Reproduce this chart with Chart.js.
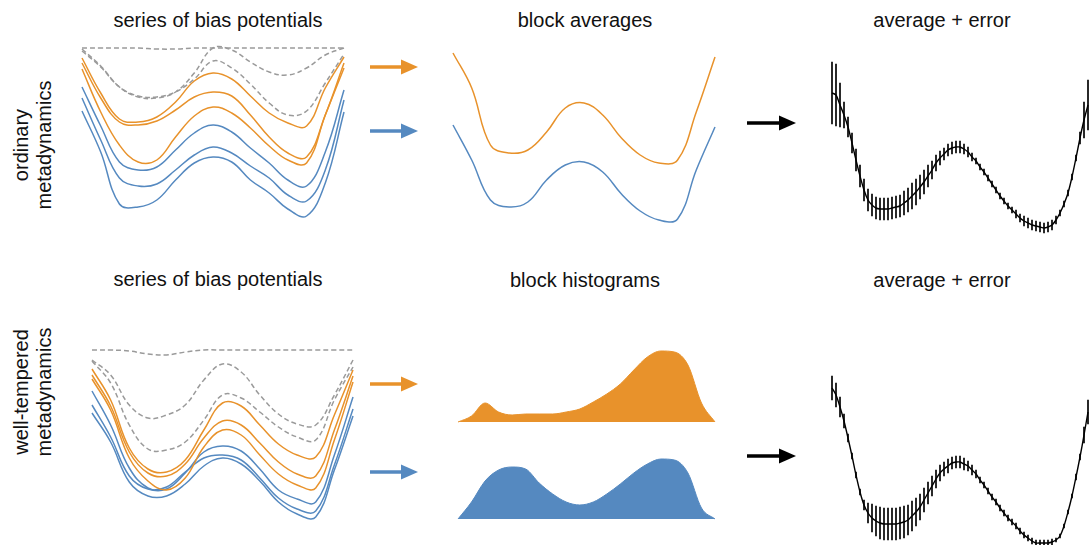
<!DOCTYPE html>
<html>
<head>
<meta charset="utf-8">
<script src="https://cdn.jsdelivr.net/npm/chart.js@4.4.1/dist/chart.umd.min.js"></script>
<style>
body{margin:0;background:#fff;width:1090px;height:545px;overflow:hidden;position:relative;font-family:"Liberation Sans",Arial,Helvetica,sans-serif;color:#111}
canvas{position:absolute}
.title{position:absolute;font-size:20px;line-height:20px;white-space:nowrap;transform:translateX(-50%)}
.side{position:absolute;width:200px;height:46px;font-size:20px;line-height:23px;text-align:center;transform:rotate(-90deg)}
svg{position:absolute;left:0;top:0}
</style>
</head>
<body>
<div class="title" style="left:218px;top:10px">series of bias potentials</div>
<div class="title" style="left:585px;top:10px">block averages</div>
<div class="title" style="left:942px;top:10px">average + error</div>
<div class="title" style="left:218px;top:269px">series of bias potentials</div>
<div class="title" style="left:585px;top:270px">block histograms</div>
<div class="title" style="left:942px;top:270px">average + error</div>
<div class="side" style="left:-67px;top:122px">ordinary<br>metadynamics</div>
<div class="side" style="left:-67px;top:369px">well-tempered<br>metadynamics</div>

<svg width="1090" height="545">
  <g stroke-width="3.5">
    <line x1="370" y1="67" x2="405" y2="67" stroke="#E8922B"/>
    <polygon points="401,59.5 418,67 401,74.5" fill="#E8922B"/>
    <line x1="370" y1="131" x2="405" y2="131" stroke="#5589C0"/>
    <polygon points="401,123.5 418,131 401,138.5" fill="#5589C0"/>
    <line x1="747" y1="123" x2="783" y2="123" stroke="#000"/>
    <polygon points="779,115.5 796,123 779,130.5" fill="#000"/>
    <line x1="370" y1="384" x2="405" y2="384" stroke="#E8922B"/>
    <polygon points="401,376.5 418,384 401,391.5" fill="#E8922B"/>
    <line x1="370" y1="472" x2="405" y2="472" stroke="#5589C0"/>
    <polygon points="401,464.5 418,472 401,479.5" fill="#5589C0"/>
    <line x1="747" y1="456" x2="783" y2="456" stroke="#000"/>
    <polygon points="779,448.5 796,456 779,463.5" fill="#000"/>
  </g>
</svg>

<script>
// ---- ordinary metadynamics: series of bias potentials (15 samples along CV) ----
const ordFlat  = [0, 0, 0, 0, -1, -1, 0, 0, 0, 0, 0, 0, 0, 0, 0];
const ordGrey1 = [-1, -18, -39, -49, -50, -44, -25, 0, -2, -14, -24, -27, -20, -7, 0];
const ordGrey2 = [-3, -19, -39, -48, -49, -44, -31, -13, -20, -36, -55, -67, -63, -35, -6];
const ordOrA = [-10, -45, -71, -74, -69, -54, -33, -25, -31, -48, -65, -75, -78, -40, -9];
const ordOrB = [-15, -50, -74, -77, -73, -62, -49, -44, -48, -67, -89, -105, -109, -67, -15];
const ordOrC = [-21, -64, -97, -114, -112, -89, -68, -59, -65, -80, -98, -112, -115, -67, -20];
const ordBlA = [-39, -78, -114, -122, -119, -102, -85, -77, -84, -100, -115, -132, -138, -104, -42];
const ordBlB = [-50, -92, -130, -138, -136, -122, -107, -99, -105, -118, -130, -147, -153, -122, -52];
const ordBlC = [-63, -104, -156, -159, -152, -132, -115, -109, -114, -132, -145, -161, -168, -135, -64];

// block averages
const avgOrange = [0, -35, -92, -100, -97, -79, -55, -50, -62, -85, -102, -110, -107, -59, -4];
const avgBlue   = [-72, -107, -147, -154, -149, -127, -112, -109, -119, -141, -158, -167, -166, -117, -74];

// average + error (65 samples)
const ordMean = [0, -2, -12, -22, -34, -50, -67, -83, -97, -107, -112, -115, -116, -116, -116, -115, -114, -113, -110, -107,
  -103, -99, -94, -89, -83, -77, -70, -65, -61, -57, -55, -54, -54, -56, -59, -64, -68, -74, -79, -85,
  -91, -97, -103, -108, -113, -117, -121, -125, -128, -130, -132, -133, -134, -135, -134, -132, -127, -120, -111, -100,
  -84, -65, -45, -27, -12];
const ordErr = [31, 31, 22, 13, 10, 10, 11, 11, 11, 11, 11, 11, 11, 11, 11, 11, 11, 11, 12, 12,
  13, 13, 12, 12, 11, 9, 8, 7, 6, 6, 6, 6, 6, 5, 5, 4, 3, 3, 3, 3,
  3, 3, 3, 3, 3, 3, 4, 4, 5, 5, 5, 5, 5, 5, 5, 5, 4, 3, 3, 3,
  3, 3, 6, 18, 25];

// ---- well-tempered metadynamics ----
const wtFlat  = [0, 0, -1, -4, -5, -2, 0, 0, 0, 0, 0, 0, 0, 0, 0];
const wtGrey1 = [-10, -25, -55, -68, -65, -55, -30, -14, -22, -45, -64, -74, -75, -45, -10];
const wtGrey2 = [-11, -33, -75, -99, -100, -92, -70, -45, -48, -62, -77, -87, -90, -50, -17];
const wtOrA = [-19, -50, -98, -119, -122, -110, -80, -53, -56, -75, -94, -105, -107, -65, -20];
const wtOrB = [-25, -56, -102, -123, -126, -114, -88, -71, -75, -93, -112, -124, -126, -80, -26];
const wtOrC = [-29, -60, -108, -131, -140, -128, -97, -80, -85, -105, -124, -135, -138, -90, -32];
const wtBlA = [-41, -75, -118, -138, -139, -123, -102, -96, -101, -119, -140, -149, -152, -105, -47];
const wtBlB = [-55, -87, -126, -139, -137, -122, -108, -105, -110, -128, -148, -159, -161, -115, -59];
const wtBlC = [-63, -92, -132, -146, -146, -134, -116, -108, -114, -131, -152, -164, -167, -120, -66];

// block histograms (20 bins)
const histOrange = [0, 6, 19, 10, 7, 8, 8, 8, 10, 13, 20, 28, 38, 52, 65, 71, 70, 57, 19, 0];
const histBlue   = [0, 17, 38, 49, 52, 50, 36, 25, 17, 14, 17, 25, 35, 46, 55, 60, 59, 46, 11, 0];

const wtMean = [0, -7, -19, -33, -50, -68, -87, -104, -117, -125, -130, -133, -135, -136, -136, -136, -136, -135, -134, -132,
  -128, -124, -119, -112, -105, -98, -91, -85, -81, -78, -75, -74, -74, -76, -78, -82, -86, -92, -97, -103,
  -109, -114, -120, -125, -130, -134, -138, -143, -147, -150, -153, -155, -155, -155, -155, -154, -152, -148, -138, -124,
  -108, -89, -69, -47, -24];
const wtErr = [12, 12, 10, 7, 4, 3, 3, 3, 5, 10, 14, 15, 16, 16, 16, 16, 16, 16, 16, 15,
  15, 14, 13, 12, 11, 10, 9, 8, 7, 7, 6, 6, 6, 6, 5, 5, 4, 3, 3, 3,
  3, 3, 3, 3, 3, 3, 3, 3, 3, 3, 3, 3, 3, 3, 3, 3, 2, 2, 2, 2,
  2, 3, 3, 8, 12];

const ORANGE = '#E8922B', BLUE = '#5589C0', GREY = '#9a9a9a';

function pts(vals) { return vals.map((v, i) => ({x: i, y: v})); }

function curve(vals, color, dashed) {
  return {
    type: 'line', data: pts(vals), borderColor: color, borderWidth: 1.5,
    borderDash: dashed ? [5, 3] : [], pointRadius: 0, tension: 0.4, fill: false
  };
}

function area(vals, color) {
  return {
    type: 'line', data: pts(vals), borderColor: color, backgroundColor: color,
    borderWidth: 1, pointRadius: 0, cubicInterpolationMode: 'monotone', fill: {value: 0}
  };
}

function meanLine(vals) {
  return {type: 'line', data: pts(vals), borderColor: '#000', borderWidth: 1.4, pointRadius: 0, tension: 0.3};
}

function errBars(vals, errs) {
  return {
    type: 'bar', data: vals.map((v, i) => ({x: i, y: [v - errs[i], v + errs[i]]})),
    backgroundColor: '#1a1a1a', borderWidth: 0, barThickness: 1.2, grouped: false
  };
}

function panel(box, xr, yr, datasets, type) {
  const c = document.createElement('canvas');
  c.width = box[2]; c.height = box[3];
  c.style.left = box[0] + 'px'; c.style.top = box[1] + 'px';
  document.body.appendChild(c);
  return new Chart(c.getContext('2d'), {
    type: type || 'line',
    data: {datasets: datasets},
    options: {
      responsive: false, animation: false, events: [],
      layout: {padding: 0},
      plugins: {legend: {display: false}, tooltip: {enabled: false}},
      scales: {
        x: {type: 'linear', display: false, min: xr[0], max: xr[1], offset: false},
        y: {type: 'linear', display: false, min: yr[0], max: yr[1]}
      }
    }
  });
}

// ordinary: bias series
panel([72, 38, 282, 190], [-0.534, 14.534], [-180, 10], [
  curve(ordFlat, GREY, true), curve(ordGrey1, GREY, true), curve(ordGrey2, GREY, true),
  curve(ordOrA, ORANGE), curve(ordOrB, ORANGE), curve(ordOrC, ORANGE),
  curve(ordBlA, BLUE), curve(ordBlB, BLUE), curve(ordBlC, BLUE)
]);

// ordinary: block averages
panel([443, 43, 282, 190], [-0.534, 14.534], [-180, 10], [
  curve(avgOrange, ORANGE), curve(avgBlue, BLUE)
]);

// ordinary: average + error
panel([822, 55, 268, 185], [-2.5, 64.5], [-147, 38], [
  meanLine(ordMean), errBars(ordMean, ordErr)
], 'bar');

// well-tempered: bias series
panel([82, 340, 281, 190], [-0.536, 14.536], [-180, 10], [
  curve(wtFlat, GREY, true), curve(wtGrey1, GREY, true), curve(wtGrey2, GREY, true),
  curve(wtOrA, ORANGE), curve(wtOrB, ORANGE), curve(wtOrC, ORANGE),
  curve(wtBlA, BLUE), curve(wtBlB, BLUE), curve(wtBlC, BLUE)
]);

// well-tempered: block histograms
panel([448, 337, 277, 88], [-0.739, 19.739], [-3, 85], [area(histOrange, ORANGE)]);
panel([448, 434, 277, 88], [-0.739, 19.739], [-3, 85], [area(histBlue, BLUE)]);

// well-tempered: average + error
panel([822, 365, 268, 180], [-2.5, 64.5], [-157, 23], [
  meanLine(wtMean), errBars(wtMean, wtErr)
], 'bar');
</script>
</body>
</html>
